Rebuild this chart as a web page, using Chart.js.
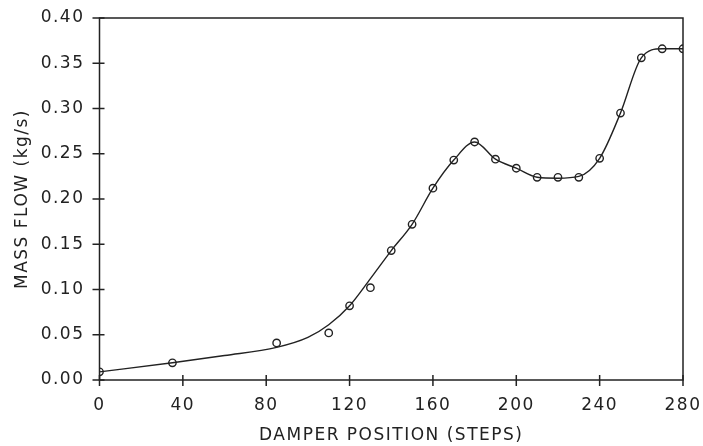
<!DOCTYPE html>
<html>
<head>
<meta charset="utf-8">
<script src="https://cdn.jsdelivr.net/npm/chart.js@4"></script>
<style>
  html, body { margin: 0; padding: 0; background: #fff; }
  #wrap { width: 703px; height: 446px; }
</style>
</head>
<body>
<div id="wrap"><canvas id="myChart" width="703" height="446"></canvas></div>
<script>
// measured points
const damperSteps = [0, 35, 85, 110, 120, 130, 140, 150, 160, 170, 180, 190, 200, 210, 220, 230, 240, 250, 260, 270, 280];
const massFlow = [0.009, 0.019, 0.041, 0.052, 0.082, 0.102, 0.143, 0.172, 0.212, 0.243, 0.263, 0.244, 0.234, 0.224, 0.224, 0.224, 0.245, 0.295, 0.356, 0.366, 0.366];

// smooth fitted curve
const fitSteps = [0, 35, 60, 85, 100, 110, 120, 130, 140, 150, 160, 170, 180, 190, 200, 210, 220, 230, 240, 250, 260, 270, 280];
const fitFlow = [0.009, 0.019, 0.027, 0.036, 0.047, 0.061, 0.082, 0.112, 0.143, 0.172, 0.212, 0.243, 0.263, 0.244, 0.234, 0.224, 0.223, 0.225, 0.245, 0.295, 0.356, 0.366, 0.366];

const ink = '#222';

const pts = damperSteps.map((s, i) => ({x: s, y: massFlow[i]}));
const fit = fitSteps.map((s, i) => ({x: s, y: fitFlow[i]}));

// box round the plot and ticks that cross the axes
const frame = {
  id: 'frame',
  beforeUpdate(chart) { chart.ctx.letterSpacing = '1.5px'; },
  beforeDraw(chart) { chart.ctx.letterSpacing = '1.5px'; },
  afterDraw(chart) {
    const {ctx, chartArea: a, scales: {x, y}} = chart;
    ctx.save();
    ctx.strokeStyle = ink;
    ctx.lineWidth = 1.5;
    ctx.strokeRect(a.left, a.top, a.right - a.left, a.bottom - a.top);
    ctx.beginPath();
    x.ticks.forEach(t => {
      const px = x.getPixelForValue(t.value);
      ctx.moveTo(px, a.bottom - 5);
      ctx.lineTo(px, a.bottom + 6);
    });
    y.ticks.forEach(t => {
      const py = y.getPixelForValue(t.value);
      ctx.moveTo(a.left - 7, py);
      ctx.lineTo(a.left + 5, py);
    });
    ctx.stroke();
    ctx.restore();
  }
};

Chart.defaults.font.family = '"DejaVu Sans", sans-serif';
Chart.defaults.font.size = 17;
Chart.defaults.color = ink;

const config = {
  type: 'scatter',
  data: {
    datasets: [{
      label: 'fit',
      data: fit,
      showLine: true,
      borderColor: ink,
      borderWidth: 1.4,
      pointRadius: 0,
      cubicInterpolationMode: 'monotone',
      order: 2
    }, {
      label: 'measured',
      data: pts,
      showLine: false,
      pointRadius: 3.7,
      pointBorderWidth: 1.4,
      pointBorderColor: ink,
      pointBackgroundColor: 'rgba(0,0,0,0)',
      order: 1
    }]
  },
  options: {
    responsive: false,
    animation: false,
    layout: { padding: { top: 18, right: 20, left: 0, bottom: 0 } },
    plugins: { legend: { display: false }, tooltip: { enabled: false } },
    scales: {
      x: {
        type: 'linear',
        min: 0, max: 280,
        grid: { display: false, drawTicks: false },
        border: { display: false },
        ticks: { stepSize: 40, padding: 15 },
        title: { display: true, text: 'DAMPER POSITION (STEPS)', padding: { top: 0, bottom: 0 } },
        afterFit(s) { s.height = 66; s.paddingLeft = 0; s.paddingRight = 0; }
      },
      y: {
        min: 0, max: 0.4,
        grid: { display: false, drawTicks: false },
        border: { display: false },
        ticks: { stepSize: 0.05, padding: 15, callback: v => v.toFixed(2) },
        title: { display: true, text: 'MASS FLOW (kg/s)', padding: { top: 12, bottom: 0 } },
        afterFit(s) { s.width = 99.5; s.paddingTop = 0; s.paddingBottom = 0; }
      }
    }
  },
  plugins: [frame]
};

const myChart = new Chart(document.getElementById('myChart'), config);
</script>
</body>
</html>
